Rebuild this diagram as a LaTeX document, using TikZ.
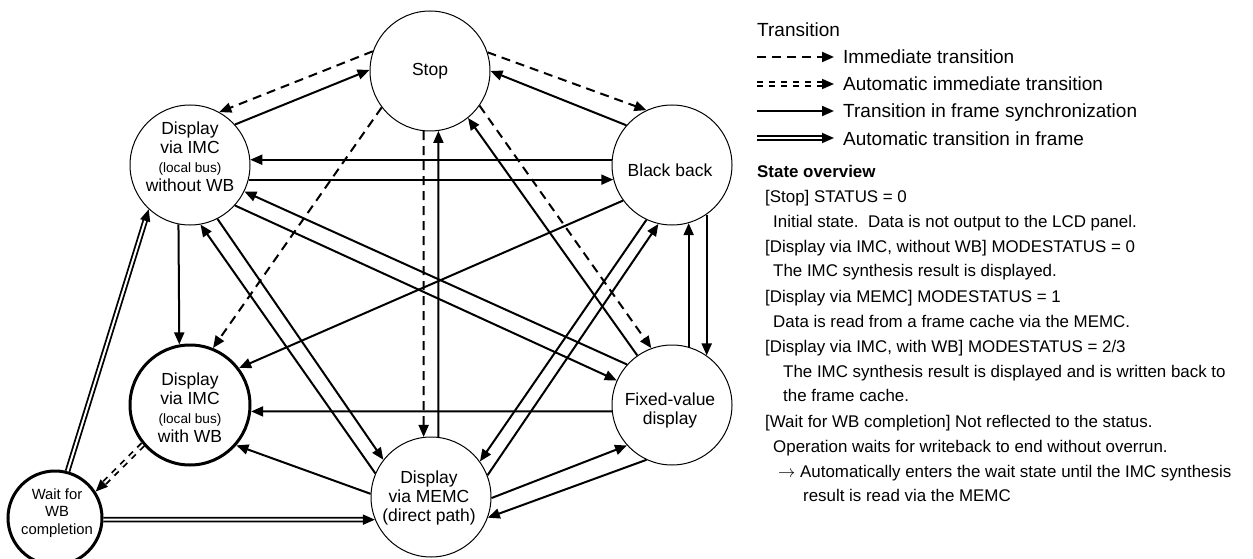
\documentclass[tikz,border=0pt]{standalone}
\usepackage{fontspec}
\setmainfont{Liberation Sans}
\usetikzlibrary{arrows.meta}
\tikzset{
  state/.style={circle, draw, line width=1pt, minimum size=120pt, inner sep=0pt},
  thickstate/.style={state, line width=3pt},
  waitstate/.style={thickstate, minimum size=94pt},
  stext/.style={align=center, inner sep=0pt, font={\fontsize{17.5}{19}\selectfont}},
  wtext/.style={align=center, inner sep=0pt, font={\fontsize{14.8}{17.5}\selectfont}},
  legtxt/.style={anchor=base west, inner sep=0pt, font={\fontsize{19}{22}\selectfont}},
  ovtxt/.style={anchor=base west, inner sep=0pt, font={\fontsize{16.9}{20}\selectfont}},
  tiphead/.style={-{Triangle[length=12pt,width=10pt]}},
  syncedge/.style={tiphead, line width=2pt},
  immedge/.style={tiphead, line width=2pt, dash pattern=on 9pt off 6pt},
  autoedge/.style={tiphead, line width=1.8pt, double, double distance=2pt},
  autoimmedge/.style={autoedge, dash pattern=on 6pt off 6pt},
}
\newcommand{\lbsmall}{\fontsize{13.6}{19}\selectfont}
\begin{document}
\begin{tikzpicture}[x=1pt,y=-1pt]
\useasboundingbox (0,0) rectangle (1253,559);
% states
\node[state] (S) at (430,71) {};
\node[state] (A) at (190,165) {};
\node[state] (BB) at (672,165) {};
\node[thickstate] (B) at (190,405) {};
\node[state] (F) at (672,405) {};
\node[state] (M) at (431,497) {};
\node[waitstate] (W) at (55,518) {};
% state texts
\node[stext] (St) at (430,71) {Stop};
\node[stext] (At) at (190,157) {Display\\via IMC\\{\lbsmall (local bus)}\\without WB};
\node[stext] (BBt) at (670,170) {Black back};
\node[stext] (Bt) at (190,408) {Display\\via IMC\\{\lbsmall (local bus)}\\with WB};
\node[stext] (Ft) at (670,410) {Fixed-value\\display};
\node[stext] (Mt) at (429,498) {Display\\via MEMC\\(direct path)};
\node[wtext] (Wt) at (57,513) {Wait for\\WB\\completion};
% transitions
\draw[immedge] (S.161.6) -- (A.61.7);
\draw[syncedge] (A.42.3) -- (S.179);
\draw[immedge] (S.18) -- (BB.115);
\draw[syncedge] (BB.139) -- (S.0);
\draw[syncedge] (BB.175) -- (A.5);
\draw[syncedge] (A.-14.5) -- (BB.194.5);
\draw[immedge] (S.217) -- (B.68);
\draw[immedge] (S.-96.7) -- (M.97.7);
\draw[syncedge] (M.83.3) -- (S.-82.3);
\draw[immedge] (S.-35.8) -- (F.110);
\draw[syncedge] (F.125) -- (S.-51);
\draw[syncedge] (A.259.4) -- (B.100.6);
\draw[autoedge] (W.75) -- (A.227.5);
\draw[autoimmedge] (B.220.4) -- (W.33.7);
\draw[autoedge] (W.-2.5) -- (M.202.5);
\draw[syncedge] (M.177) -- (B.-41);
\draw[syncedge] (F.186.7) -- (B.-6.7);
\draw[syncedge] (BB.216.5) -- (B.37);
\draw[syncedge] (M.157.5) -- (A.-80);
\draw[syncedge] (A.-63.4) -- (M.142);
\draw[syncedge] (F.138) -- (A.-26);
\draw[syncedge] (A.-42.4) -- (F.156);
\draw[syncedge] (BB.245.2) -- (M.36);
\draw[syncedge] (M.21) -- (BB.257);
\draw[syncedge] (BB.-55.5) -- (F.55.5);
\draw[syncedge] (F.74.5) -- (BB.-74.5);
\draw[syncedge] (M.-1) -- (F.222.5);
\draw[syncedge] (F.245.6) -- (M.-20);
% legend
\node[legtxt] (lt) at (757,37) {Transition};
\coordinate (l1s) at (757,57); \coordinate (l1e) at (834,57);
\coordinate (l2s) at (757,84); \coordinate (l2e) at (834,84);
\coordinate (l3s) at (757,111); \coordinate (l3e) at (834,111);
\coordinate (l4s) at (757,138); \coordinate (l4e) at (834,138);
\draw[immedge] (l1s) -- (l1e);
\draw[autoimmedge] (l2s) -- (l2e);
\draw[syncedge] (l3s) -- (l3e);
\draw[autoedge] (l4s) -- (l4e);
\node[legtxt] (lt1) at (843,64) {Immediate transition};
\node[legtxt] (lt2) at (843,91) {Automatic immediate transition};
\node[legtxt] (lt3) at (843,118) {Transition in frame synchronization};
\node[legtxt] (lt4) at (843,146) {Automatic transition in frame};
% overview
\node[ovtxt, font={\fontsize{16.9}{20}\selectfont\bfseries}] (ov) at (757,177) {State overview};
\node[ovtxt] (o1) at (765,202) {[Stop] STATUS = 0};
\node[ovtxt] (o2) at (773,227) {Initial state.\ \ Data is not output to the LCD panel.};
\node[ovtxt] (o3) at (765,252) {[Display via IMC, without WB] MODESTATUS = 0};
\node[ovtxt] (o4) at (773,276) {The IMC synthesis result is displayed.};
\node[ovtxt] (o5) at (765,302) {[Display via MEMC] MODESTATUS = 1};
\node[ovtxt] (o6) at (773,327) {Data is read from a frame cache via the MEMC.};
\node[ovtxt] (o7) at (765,352) {[Display via IMC, with WB] MODESTATUS = 2/3};
\node[ovtxt] (o8) at (783,377) {The IMC synthesis result is displayed and is written back to};
\node[ovtxt] (o9) at (783,401) {the frame cache.};
\node[ovtxt] (o10) at (765,427) {[Wait for WB completion] Not reflected to the status.};
\node[ovtxt] (o11) at (773,452) {Operation waits for writeback to end without overrun.};
\node[ovtxt] (o12) at (778,477) {$\rightarrow$ Automatically enters the wait state until the IMC synthesis};
\node[ovtxt] (o13) at (803,501) {result is read via the MEMC};
\end{tikzpicture}
\end{document}
